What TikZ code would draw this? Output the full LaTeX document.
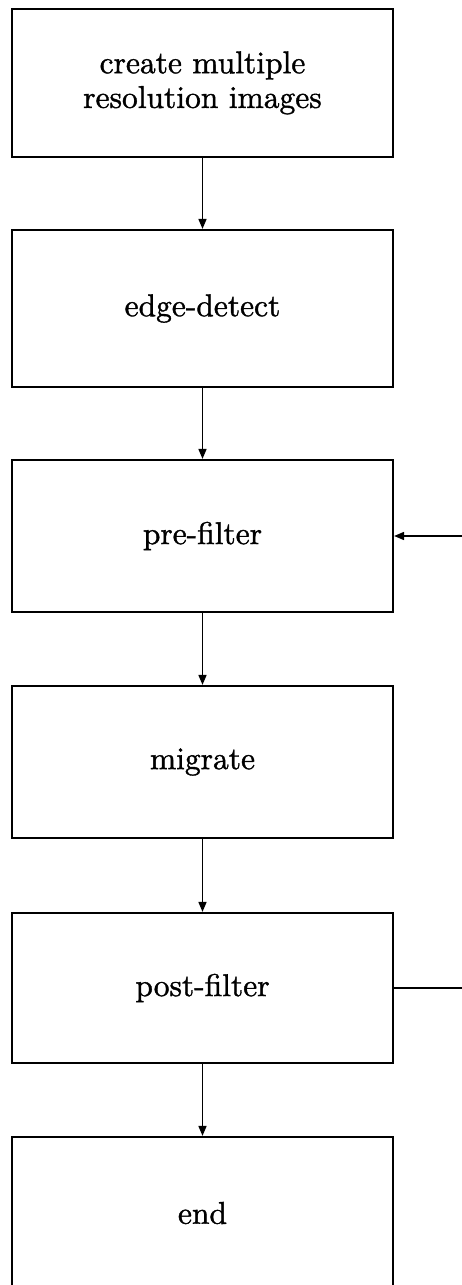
\documentclass[tikz,border=0pt]{standalone}
\usepackage{fontspec}
\newfontfamily\heavylabel[FakeBold=1.2]{Latin Modern Roman}
\usetikzlibrary{arrows.meta}
\tikzset{
  stepbox/.style={draw, rectangle, line width=2.2pt, minimum width=381pt, inner sep=0pt},
  flow/.style={line width=1.6pt, -{Triangle[length=10pt,width=8pt]}},
  plainline/.style={line width=1.6pt}
}
\newcommand{\boxlabel}[1]{\scalebox{3.15}{\heavylabel #1}}
\begin{document}
\begin{tikzpicture}[x=1pt,y=-1pt]
\useasboundingbox (0,0) rectangle (462,1285);
\node[stepbox, minimum height=148pt] (b1) at (202.5,83) {\boxlabel{\begin{tabular}{@{}c@{}}create multiple\\[-1pt]resolution images\end{tabular}}};
\node[stepbox, minimum height=157pt] (b2) at (202.5,308.5) {\boxlabel{edge-detect}};
\node[stepbox, minimum height=152pt] (b3) at (202.5,536) {\boxlabel{pre-filter}};
\node[stepbox, minimum height=152pt] (b4) at (202.5,762) {\boxlabel{migrate}};
\node[stepbox, minimum height=150pt] (b5) at (202.5,988) {\boxlabel{post-filter}};
\node[stepbox, minimum height=152pt] (b6) at (202.5,1213) {\boxlabel{end}};
\coordinate (inR) at (462,536);
\coordinate (outR) at (462,988);
\draw[flow] (b1) -- (b2);
\draw[flow] (b2) -- (b3);
\draw[flow] (b3) -- (b4);
\draw[flow] (b4) -- (b5);
\draw[flow] (b5) -- (b6);
\draw[flow] (inR) -- (b3.east);
\draw[plainline] (b5.east) -- (outR);
\end{tikzpicture}
\end{document}
